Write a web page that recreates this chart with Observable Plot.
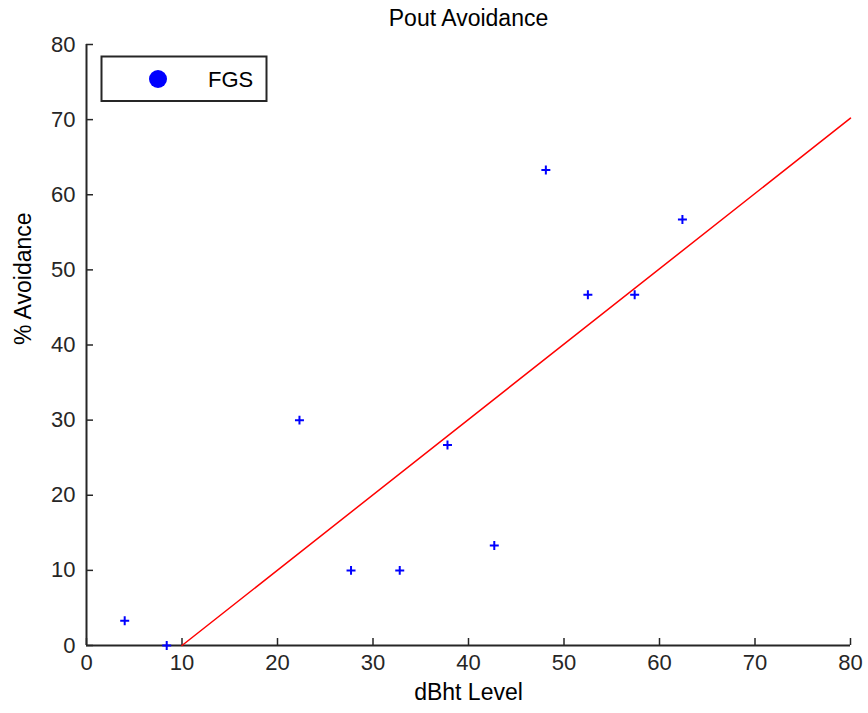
<!DOCTYPE html>
<html>
<head>
<meta charset="utf-8">
<script src="https://cdn.jsdelivr.net/npm/d3@7"></script>
<script src="https://cdn.jsdelivr.net/npm/@observablehq/plot@0.6"></script>
<style>
  html, body { margin: 0; padding: 0; background: #fff; }
  #chart svg { display: block; }
</style>
</head>
<body>
<div id="chart"></div>
<script>
// Data
const dbhtLevel = [4.0, 8.4, 22.3, 27.7, 32.8, 37.8, 42.7, 48.1, 52.5, 57.4, 62.4];
const avoidance = [3.3, 0.0, 30.0, 10.0, 10.0, 26.7, 13.3, 63.3, 46.7, 46.7, 56.7];
const fitX = [10, 80];
const fitY = [0, 70.2];
const xTicks = [0, 10, 20, 30, 40, 50, 60, 70, 80];
const yTicks = [0, 10, 20, 30, 40, 50, 60, 70, 80];
const seriesName = "FGS";
const titleText = "Pout Avoidance";
const xLabel = "dBht Level";
const yLabel = "% Avoidance";

const points = dbhtLevel.map((x, i) => ({x, y: avoidance[i]}));
const fit = fitX.map((x, i) => ({x, y: fitY[i]}));

const font = "'Liberation Sans', Arial, Helvetica, sans-serif";
const axisColor = "#262626";

const plot = Plot.plot({
  width: 868,
  height: 713,
  marginLeft: 86,
  marginRight: 18,
  marginTop: 44,
  marginBottom: 68,
  style: {fontFamily: font, background: "#fff", color: axisColor},
  x: {domain: [0, 80]},
  y: {domain: [0, 80]},
  marks: [
    Plot.axisX(xTicks, {
      tickSize: -7, tickPadding: 16, fontSize: 22, strokeWidth: 1.5,
      label: null
    }),
    Plot.axisY(yTicks, {
      tickSize: -7, tickPadding: 18, fontSize: 22, strokeWidth: 1.5,
      label: null
    }),
    Plot.ruleY([0], {stroke: axisColor, strokeWidth: 2}),
    Plot.ruleX([0], {stroke: axisColor, strokeWidth: 2}),
    Plot.line(fit, {x: "x", y: "y", stroke: "#ff0000", strokeWidth: 1.5}),
    Plot.dot(points, {x: "x", y: "y", symbol: "plus", r: 3, stroke: "#0000ff", strokeWidth: 2}),
    Plot.text([titleText], {frameAnchor: "top", lineAnchor: "middle", dy: -26, fontSize: 23, fill: "#000"}),
    Plot.text([xLabel], {frameAnchor: "bottom", lineAnchor: "middle", dy: 47, fontSize: 23, fill: "#000"}),
    Plot.text([yLabel], {frameAnchor: "left", dx: -63, rotate: -90, fontSize: 23, fill: "#000"})
  ]
});

document.getElementById("chart").appendChild(plot);

// Legend box (MATLAB-style, inside plot area top-left)
const svg = d3.select(plot);
const lg = svg.append("g").attr("class", "legend");
lg.append("rect")
  .attr("x", 101.5).attr("y", 56.5).attr("width", 165).attr("height", 44.5)
  .attr("fill", "#fff").attr("stroke", axisColor).attr("stroke-width", 2);
lg.append("circle")
  .attr("cx", 158).attr("cy", 79).attr("r", 9).attr("fill", "#0000ff");
lg.append("text")
  .attr("x", 208).attr("y", 79).attr("dy", "0.35em")
  .attr("text-anchor", "start")
  .attr("font-size", 22).attr("font-family", font).attr("fill", "#000")
  .text(seriesName);
</script>
</body>
</html>
